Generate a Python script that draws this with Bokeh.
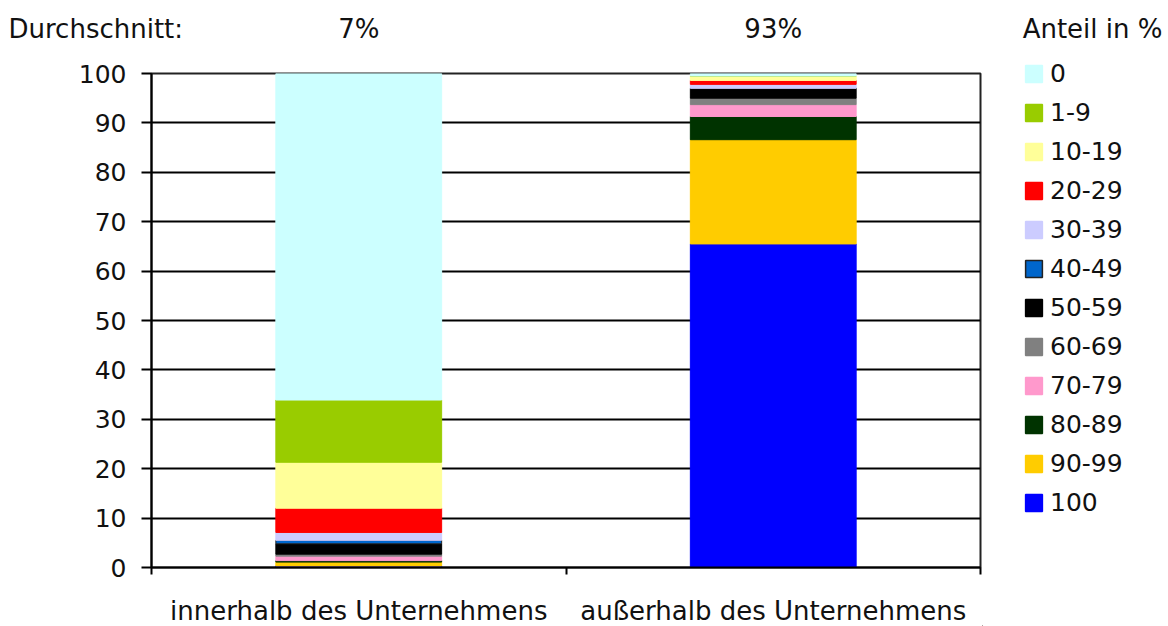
from bokeh.plotting import figure
from bokeh.layouts import row, column
from bokeh.models import (Range1d, Legend, LegendItem, Label, FixedTicker,
                          ColumnDataSource)
from bokeh.embed import file_html
from bokeh.resources import INLINE

categories = ["innerhalb des Unternehmens", "außerhalb des Unternehmens"]
averages = ["7%", "93%"]
bins = ["0", "1-9", "10-19", "20-29", "30-39", "40-49", "50-59",
        "60-69", "70-79", "80-89", "90-99", "100"]
inside = [66.1, 12.6, 9.3, 4.9, 1.6, 0.7, 2.1, 0.4, 0.9, 0.3, 0.8, 0.3]
outside = [0.5, 0.0, 0.9, 0.8, 0.8, 0.0, 2.0, 1.3, 2.4, 4.7, 21.1, 65.5]
colors = ["#CCFFFF", "#99CC00", "#FFFF99", "#FF0000", "#CCCCFF", "#0066CC",
          "#000000", "#808080", "#FF99CC", "#003300", "#FFCC00", "#0000FF"]
y_ticks = list(range(0, 101, 10))

FONT = "DejaVu Sans"
TXT = "#111111"
N = len(categories)
PX_PER_CAT = 414.5  # frame 829 px wide for N categories

TOP_H = 56
MAIN_H = 529
BOT_H = 626 - TOP_H - MAIN_H
SIDE_H = MAIN_H + BOT_H

# ---------------- main chart ----------------
data = {"x": [i + 0.5 for i in range(N)]}
for b, vi, vo in zip(bins, inside, outside):
    data[b] = [vi, vo]
source = ColumnDataSource(data)

p = figure(width=982, height=MAIN_H, output_backend="svg", toolbar_location=None,
           x_range=Range1d(0, N), y_range=Range1d(0, 100),
           min_border_left=151, min_border_right=2, min_border_top=73 - TOP_H,
           min_border_bottom=18)
p.background_fill_color = "white"
p.border_fill_color = "white"
p.outline_line_color = "#222222"
p.outline_line_width = 2

stackers = list(reversed(bins))
fills = list(reversed(colors))
lines = ["#222222" if b == "40-49" else c for b, c in zip(stackers, fills)]
p.vbar_stack(stackers, x="x", width=0.4, source=source,
             fill_color=fills, line_color=lines, line_width=1)

p.yaxis.ticker = FixedTicker(ticks=y_ticks)
p.yaxis.major_label_text_font = FONT
p.yaxis.major_label_text_font_size = "25px"
p.yaxis.major_label_text_color = TXT
p.yaxis.major_tick_out = 10
p.yaxis.major_tick_in = 0
p.yaxis.minor_tick_line_color = None
p.yaxis.axis_line_width = 2
p.yaxis.major_tick_line_width = 2
p.yaxis.axis_line_color = "black"
p.yaxis.major_label_standoff = 15

# category boundaries as ticks
boundaries = list(range(N + 1))
p.xaxis.ticker = FixedTicker(ticks=boundaries)
p.xaxis.major_label_overrides = {b: "" for b in boundaries}
p.xaxis.major_label_text_font_size = "10px"
p.xaxis.major_tick_out = 7
p.xaxis.major_tick_in = 0
p.xaxis.major_tick_line_width = 2
p.xaxis.major_tick_line_color = "black"
p.xaxis.minor_tick_line_color = None
p.xaxis.axis_line_width = 2
p.xaxis.axis_line_color = "black"
p.xaxis.major_label_standoff = 0

p.xgrid.grid_line_color = None
p.ygrid.ticker = FixedTicker(ticks=y_ticks)
p.ygrid.grid_line_color = "black"
p.ygrid.grid_line_width = 2

# ---------------- category label strip ----------------
bot = figure(width=982, height=BOT_H, output_backend="svg", toolbar_location=None,
             x_range=Range1d(-151 / PX_PER_CAT, (982 - 151) / PX_PER_CAT),
             y_range=Range1d(0, BOT_H),
             min_border=0, x_axis_location=None, y_axis_location=None)
bot.outline_line_color = None
bot.grid.grid_line_color = None
for i, c in enumerate(categories):
    bot.add_layout(Label(x=i + 0.5, y=BOT_H - (610 - TOP_H - MAIN_H), text=c,
                         text_font=FONT, text_font_size="26px", text_align="center",
                         text_baseline="middle", text_color=TXT))

# ---------------- top strip (full width) ----------------
top = figure(width=1168, height=TOP_H, output_backend="svg", toolbar_location=None,
             x_range=Range1d(-151 / PX_PER_CAT, (1168 - 151) / PX_PER_CAT),
             y_range=Range1d(0, TOP_H),
             min_border=0, x_axis_location=None, y_axis_location=None)
top.outline_line_color = None
top.grid.grid_line_color = None
ty = TOP_H - 28
top.add_layout(Label(x=-143 / PX_PER_CAT, y=ty, text="Durchschnitt:", text_font=FONT,
                     text_font_size="26px", text_align="left", text_baseline="middle",
                     text_color=TXT))
for i, a in enumerate(averages):
    top.add_layout(Label(x=i + 0.5, y=ty, text=a, text_font=FONT, text_font_size="26px",
                         text_align="center", text_baseline="middle", text_color=TXT))
top.add_layout(Label(x=(1162 - 151) / PX_PER_CAT, y=ty, text="Anteil in %", text_font=FONT,
                     text_font_size="26px", text_align="right", text_baseline="middle",
                     text_color=TXT))

# ---------------- legend panel ----------------
lg = figure(width=186, height=SIDE_H, output_backend="svg", toolbar_location=None,
            x_range=Range1d(0, 186), y_range=Range1d(0, SIDE_H),
            min_border=0, x_axis_location=None, y_axis_location=None)
lg.outline_line_color = None
lg.grid.grid_line_color = None
items = []
for b, c in zip(bins, colors):
    r = lg.vbar(x=[-1000], top=[-1000], bottom=[-1001], width=1, fill_color=c,
                line_color="#222222" if b == "40-49" else c, line_width=1.5)
    items.append(LegendItem(label=b, renderers=[r]))
legend = Legend(items=items, location=(41, 109), glyph_width=21, glyph_height=21,
                label_standoff=6, label_height=21, spacing=10, padding=0, margin=0,
                border_line_color=None, background_fill_alpha=0,
                label_text_font=FONT, label_text_font_size="25px",
                label_text_color=TXT)
lg.add_layout(legend, "center")

layout = column(top, row(column(p, column(bot), spacing=0), column(lg), spacing=0),
                spacing=0)
open("out.html", "w").write(file_html(layout, INLINE))
